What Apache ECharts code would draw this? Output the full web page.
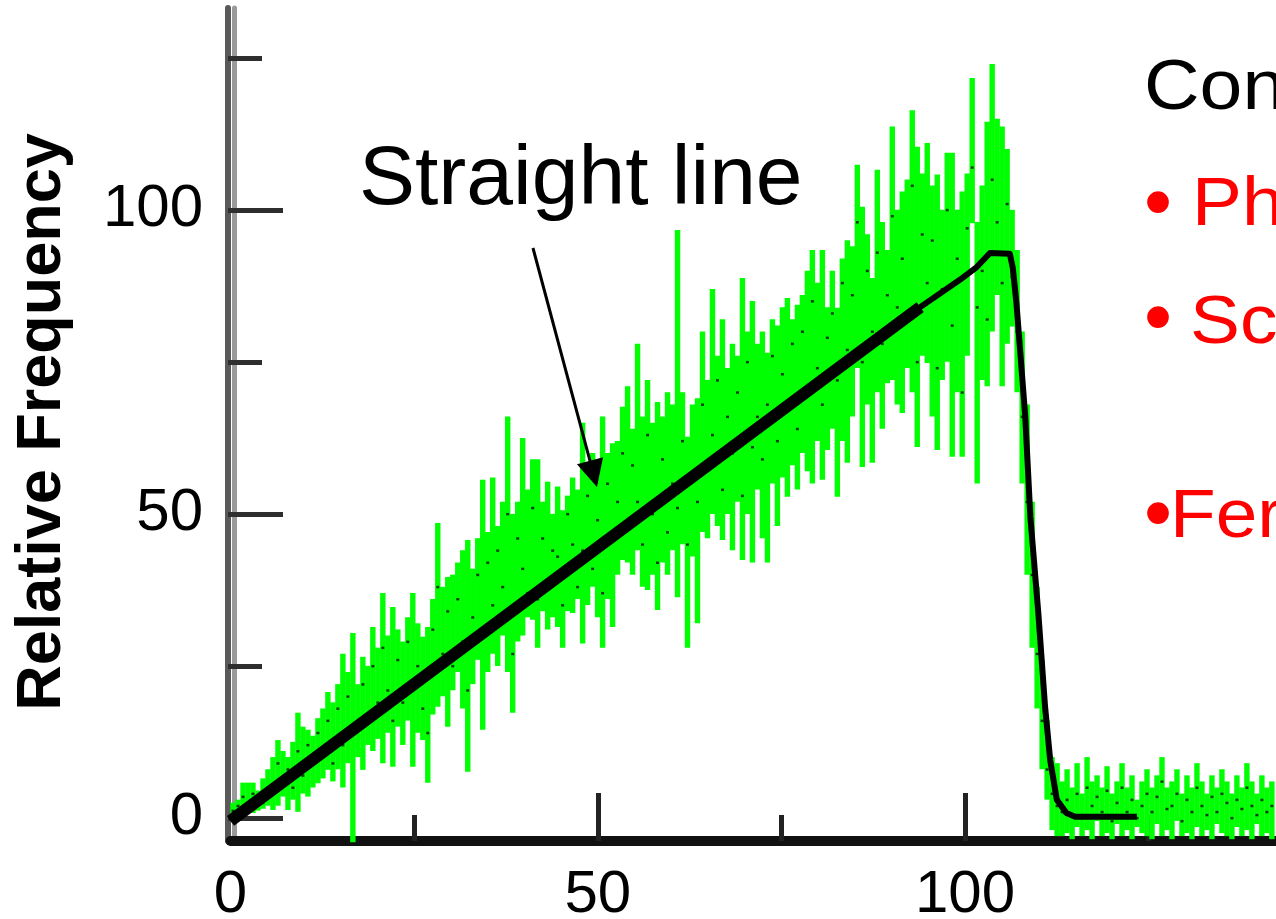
<!DOCTYPE html>
<html><head><meta charset="utf-8">
<script src="https://cdn.jsdelivr.net/npm/echarts@6/dist/echarts.min.js"></script>
<style>html,body{margin:0;padding:0;background:#fff}#c{width:1276px;height:919px}</style>
</head><body><div id="c"></div>
<script>
// channel bins (x position of each measured channel)
const chanStart = 0.34, chanStep = 0.68;
// lower / upper end of each channel's green error bar
const lo = [0,0.8,0.5,1.5,0.8,1.2,1.5,2,1.3,2,
 3.5,1.3,3,1,4,3.5,5,5.7,6.5,7.9,
 6,8,5,9,-4,10,7.9,12,11,13,
 9,14,8.4,15,12,16,8.4,14,12.8,5.8,
 17,18.3,20,15,21,24,18,7.6,22,26,
 14.5,24,27,25,30,24,17.3,29,30,33,
 32.6,28,34,31,33,31.4,28,34,33.7,36,
 28.7,35,38,33,28,36,31.4,40,42.4,42,
 40,44,38,37.5,40,34.2,42,40,44,36.3,
 45,28,43,32,47,46,50,48,45.7,50,
 44,52,42.4,50,42,54,46,42,55,48,
 56,52.8,58,54,60,57,55,62,55.6,60.5,
 64,52.8,62,58.4,66,74,57.7,68,58.4,70,
 64,71.5,72,68,66.6,74,70,61,76,74.8,
 66,60.5,72,75,59.4,70,59.4,76,97.8,55,
 72,71,80,86,71,78,80.8,70,55,40,
 28,18,8,3,-2,-3,
 -3,-2.5,-3.5,-1.5,-3,-2,-3.5,-0.5,-3,-2.5,
 -3.5,-1,-3,-2,-3.5,-1.5,-2.5,-3,-3.5,-1,
 -3,-2,-3.5,-0.5,-3,-2.5,-3.5,-1.5,-3,-2,
 -3.5,-1,-2.5,-3,-3.5,-1.5,-3,-2,-3.5,-1,
 -3,-2.5,-3.5];
const hi = [2.5,3,5.8,5.8,5.8,4.5,6.5,8,10,12.8,
 11,10,12.5,17.3,15,14.5,13.5,16.4,18,20.7,
 19,22,27,24,30.4,22,26.5,25,31.4,28,
 37,30,34.7,31,29,33,37,32,29.8,31.4,
 36,48.5,38,39.6,40,42,44,45.7,41,46,
 55.6,47,56,48,52,66,50,52,62.5,54,
 59,59,52,55.3,50,54.5,50.6,53,56,54,
 65,57,60,58,66,60,61.6,62,67.6,71,
 64,78,66,72,65,68.4,66,70,68,96.7,
 70,62.7,68,69,80,72,87,76,82,74,
 78,76,88.8,80,85,78,80,76.5,82,81,
 84,85.5,82,84.4,86,90,93.4,88,93.4,84,
 90,83.9,92,95,94,107.4,100.5,96,88.8,106.6,
 98,93.4,113.7,100,103,105,116.4,110.4,106,111,
 104,105.8,100,109.4,109.4,100,103,106,121.7,98,
 104,114.5,124,115,113.7,110,100,93.4,80,68,
 52,38,26,16,10,9,
 6,8,5,9,4,10,6,7,5,8.5,
 4,6,9,5,7,3,6,8,5,7,
 10,5,6,8,4,7,5,9,6,4,
 7,5,8,6,4,7,5,9,6,4,
 7,5,6];
// measured value of each channel (dark dots)
const val = [1.2,2,3.5,2.5,4,3,2.5,5,4,9,
 6,8,5,11,7,12,9,14,10,16,
 9,18,12,20,14,15,22,17,25,19,
 28,21,16,26,19,29,22,25,18,14,
 31,38,27,34,25,36,29,21,33,40,
 30,42,35,44,38,50,27,46,41,37,
 51,36,46,39,44,43,35,50,45,38,
 44,53,41,49,37,55,46,52,60,48,
 58,52,45,63,50,42,59,47,55,51,
 62,45,56,52,68,58,63,72,54,66,
 60,70,53,75,61,66,59,68,76,62,
 73,67,78,64,80,70,85,74,68,79,
 83,72,88,77,86,98,75,90,80,93,
 78,86,99,84,92,82,104,75,96,88,
 95,74,87,100,81,92,70,97,107,84,
 90,82,105,98,88,101,89,80,66,52,
 40,27,16,8,4,2,
 1,3,0.5,4,0,5,2,3.5,1,4.5,
 -0.5,2.5,5,1,3,0,2,4,1,3.5,
 6,1.5,2,4,-0.5,3,1,5,2,0.5,
 3.5,1,4,2.5,0,3,1.5,5,2,0.5,
 3,1,2];
// fitted curve (thin black)
const fitX = [0,93.9,99.3,101.6,103.4,106.1,106.5,107,107.5,108.2,108.9,110,110.9,111.6,112.5,113.8,115,123.4];
const fitY = [-0.5,84,88.5,90.6,92.9,92.8,90.5,84.7,77,66,49.5,33.4,18.3,9.5,3,0.8,0.2,0.2];
// straight line (thick black)
const lineX = [0, 93.9];
const lineY = [-0.5, 84];
// axis ticks / labels
const xMajor = [50, 100, 150];
const xMinor = [25, 75, 125];
const xLabels = [0, 50, 100, 150];
const yMajor = [0, 50, 100];
const yMinor = [25, 75, 125];
// annotation arrow (data coords)
const arrowFrom = [41.18, 93.73];
const arrowTo = [49.42, 56.58];

const FONT = '"Liberation Sans", Arial, sans-serif';
const chan = lo.map((l, i) => [+(chanStart + i * chanStep).toFixed(2), l, hi[i], val[i]]);
const fit = fitX.map((x, i) => [x, fitY[i]]);
const straight = lineX.map((x, i) => [x, lineY[i]]);

const chart = echarts.init(document.getElementById('c'), null, {renderer: 'canvas'});
const option = {
  animation: false,
  backgroundColor: '#ffffff',
  grid: {left: 230.5, top: 8, width: 1101.75, height: 833, containLabel: false, outerBoundsMode: 'none'},
  xAxis: [
    {type: 'value', min: 0, max: 150, position: 'bottom',
     axisLine: {show: true, onZero: false, lineStyle: {color: '#111', width: 10}},
     axisTick: {show: true, inside: true, length: 48, customValues: xMajor, lineStyle: {color: '#222', width: 5}},
     axisLabel: {show: true, customValues: xLabels, margin: 24, fontSize: 60, fontFamily: FONT, color: '#000'},
     splitLine: {show: false}},
    {type: 'value', min: 0, max: 150, position: 'bottom',
     axisLine: {show: false, onZero: false},
     axisTick: {show: true, inside: true, length: 26, customValues: xMinor, lineStyle: {color: '#222', width: 5}},
     axisLabel: {show: false}, splitLine: {show: false}}
  ],
  yAxis: [
    {type: 'value', min: -3.8, max: 133.2, position: 'left', offset: 2.5,
     axisLine: {show: true, onZero: false, lineStyle: {color: '#595959', width: 6}},
     axisTick: {show: true, inside: true, length: 55, customValues: yMajor, lineStyle: {color: '#2e2e2e', width: 5}},
     axisLabel: {show: true, customValues: yMajor, margin: 25, fontSize: 60, fontFamily: FONT, color: '#000'},
     splitLine: {show: false}},
    {type: 'value', min: -3.8, max: 133.2, position: 'left', offset: -3.5,
     axisLine: {show: true, onZero: false, lineStyle: {color: '#9a9a9a', width: 5}},
     axisTick: {show: false}, axisLabel: {show: false}, splitLine: {show: false}},
    {type: 'value', min: -3.8, max: 133.2, position: 'left', offset: 2.5,
     axisLine: {show: false, onZero: false},
     axisTick: {show: true, inside: true, length: 34, customValues: yMinor, lineStyle: {color: '#2e2e2e', width: 5}},
     axisLabel: {show: false}, splitLine: {show: false}}
  ],
  series: [
    {type: 'custom', xAxisIndex: 0, yAxisIndex: 0, data: chan, encode: {x: 0, y: [1, 2]}, z: 3, silent: true,
     renderItem: function (params, api) {
       const x = api.value(0), l = api.value(1), h = api.value(2), v = api.value(3);
       const p1 = api.coord([x, l]), p2 = api.coord([x, h]), pm = api.coord([x, v]);
       return {type: 'group', children: [
         {type: 'line', shape: {x1: p1[0], y1: p1[1], x2: p2[0], y2: p2[1]}, style: {stroke: '#00ff00', lineWidth: 5.4}},
         {type: 'rect', shape: {x: pm[0] - 1.5, y: pm[1] - 1, width: 3, height: 2.5}, style: {fill: '#0a3f0a'}}
       ]};
     }},
    {type: 'line', xAxisIndex: 0, yAxisIndex: 0, data: fit, showSymbol: false, symbol: 'none', z: 4, silent: true,
     lineStyle: {color: '#000', width: 6, join: 'round'}},
    {type: 'line', xAxisIndex: 0, yAxisIndex: 0, data: straight, showSymbol: false, symbol: 'none', z: 5, silent: true,
     lineStyle: {color: '#000', width: 12, cap: 'butt'},
     markLine: {silent: true, animation: false, symbol: ['none', 'triangle'], symbolSize: 27,
       lineStyle: {color: '#000', width: 3, type: 'solid'}, label: {show: false},
       data: [[{coord: arrowFrom}, {coord: arrowTo}]]}}
  ],
  graphic: [
    {type: 'text', x: 43, y: 422, rotation: Math.PI / 2,
     style: {text: 'Relative Frequency', fontSize: 63, fontWeight: 'bold', fontFamily: FONT, fill: '#000', align: 'center', verticalAlign: 'middle'}},
    {type: 'text', x: 359, y: 181,
     style: {text: 'Straight line', fontSize: 84, fontFamily: FONT, fill: '#000', align: 'left', verticalAlign: 'middle'}},
    {type: 'text', x: 1144, y: 90, scaleX: 1.1,
     style: {text: 'Conclusions', fontSize: 70, fontFamily: FONT, fill: '#000', align: 'left', verticalAlign: 'middle'}},
    {type: 'text', x: 1158, y: 207,
     style: {text: '•', fontSize: 80, fontFamily: FONT, fill: '#ff0000', align: 'center', verticalAlign: 'middle'}},
    {type: 'text', x: 1192, y: 206.5, scaleX: 1.1,
     style: {text: 'Phase space', fontSize: 68, fontFamily: FONT, fill: '#ff0000', align: 'left', verticalAlign: 'middle'}},
    {type: 'text', x: 1158, y: 322,
     style: {text: '•', fontSize: 80, fontFamily: FONT, fill: '#ff0000', align: 'center', verticalAlign: 'middle'}},
    {type: 'text', x: 1190, y: 324.5, scaleX: 1.1,
     style: {text: 'Screening', fontSize: 68, fontFamily: FONT, fill: '#ff0000', align: 'left', verticalAlign: 'middle'}},
    {type: 'text', x: 1158, y: 518,
     style: {text: '•', fontSize: 80, fontFamily: FONT, fill: '#ff0000', align: 'center', verticalAlign: 'middle'}},
    {type: 'text', x: 1170, y: 518.5, scaleX: 1.1,
     style: {text: 'Fermi function', fontSize: 68, fontFamily: FONT, fill: '#ff0000', align: 'left', verticalAlign: 'middle'}}
  ]
};
chart.setOption(option);
</script>
</body></html>
